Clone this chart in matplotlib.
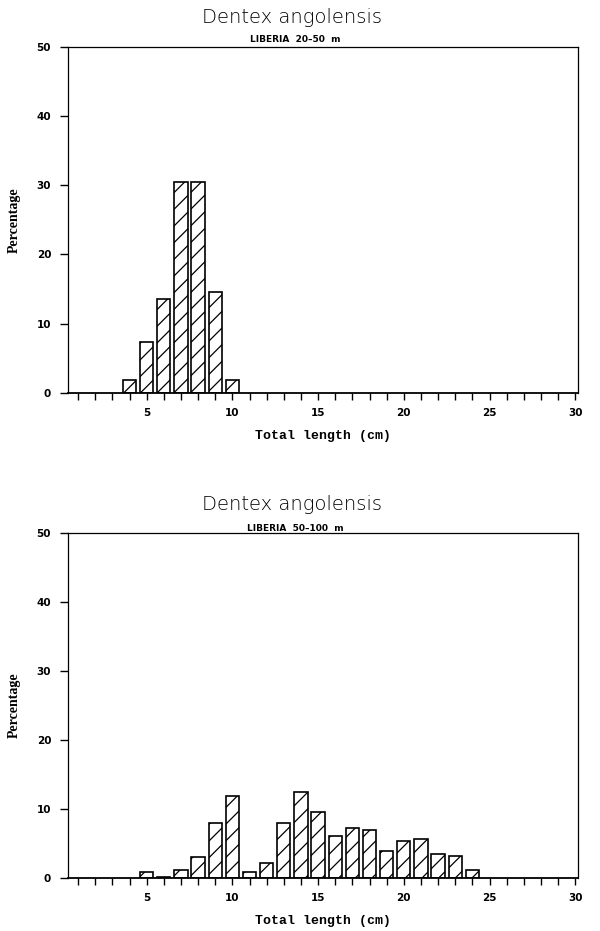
import matplotlib
matplotlib.use('Agg')
import matplotlib.pyplot as plt

# 体长组 (cm) 和百分比
lengths_top = [4, 5, 6, 7, 8, 9, 10]
pct_top = [1.8, 7.4, 13.6, 30.4, 30.4, 14.5, 1.8]

lengths_bot = [5, 6, 7, 8, 9, 10, 11, 12, 13, 14, 15, 16, 17, 18, 19, 20, 21, 22, 23, 24]
pct_bot = [0.8, 0.2, 1.1, 3.0, 8.0, 11.8, 0.8, 2.1, 8.0, 12.5, 9.6, 6.0,
           7.3, 7.0, 3.9, 5.3, 5.7, 3.5, 3.2, 1.1]

species = "Dentex angolensis"
subtitles = ["LIBERIA  20\u201350  m", "LIBERIA  50\u2013100  m"]
x_major = [5, 10, 15, 20, 25, 30]
y_major = [0, 10, 20, 30, 40, 50]

plt.rcParams['hatch.linewidth'] = 0.9

fig = plt.figure(figsize=(6, 9.31), dpi=100)

# 两个子图的位置 [left, bottom, width, height]
positions = [[0.113, 0.578, 0.850, 0.372],
             [0.113, 0.057, 0.850, 0.371]]
datasets = [(lengths_top, pct_top), (lengths_bot, pct_bot)]
title_y = [0.991, 0.468]
sub_y = [0.962, 0.437]

for k, (pos, (xs, ys)) in enumerate(zip(positions, datasets)):
    ax = fig.add_axes(pos)
    ax.bar(xs, ys, width=0.78, facecolor='white', edgecolor='black',
           linewidth=1.2, hatch='//')
    ax.set_xlim(0.4, 30.15)
    ax.set_ylim(0, 50)
    ax.set_xticks(x_major)
    ax.set_xticks(range(1, 31), minor=True)
    ax.set_yticks(y_major)
    ax.tick_params(axis='both', which='both', direction='out', width=1.0,
                   labelsize=7.5, pad=6)
    ax.tick_params(axis='x', which='both', length=5)
    ax.tick_params(axis='y', which='major', length=6)
    for lab in ax.get_xticklabels() + ax.get_yticklabels():
        lab.set_fontweight('bold')
    for sp in ax.spines.values():
        sp.set_linewidth(0.9)
    ax.spines['bottom'].set_linewidth(1.3)

    # 坐标轴标签
    bottom = pos[1]
    mid_y = pos[1] + pos[3] / 2
    fig.text(0.538, bottom - 0.046, 'Total length (cm)', family='Liberation Mono',
             fontweight='bold', fontsize=9.5, ha='center', va='center')
    fig.text(0.024, mid_y, 'Percentage', family='Liberation Serif',
             fontweight='bold', fontsize=10, rotation=90,
             ha='center', va='center')

    # 标题和副标题
    fig.text(0.487, title_y[k], species, ha='center', va='top',
             fontsize=14, family='DejaVu Sans', fontweight='light', color='black')
    fig.text(0.492, sub_y[k], subtitles[k], ha='center', va='top',
             fontsize=6.5, fontweight='bold')

plt.savefig('out.png', dpi=100)
